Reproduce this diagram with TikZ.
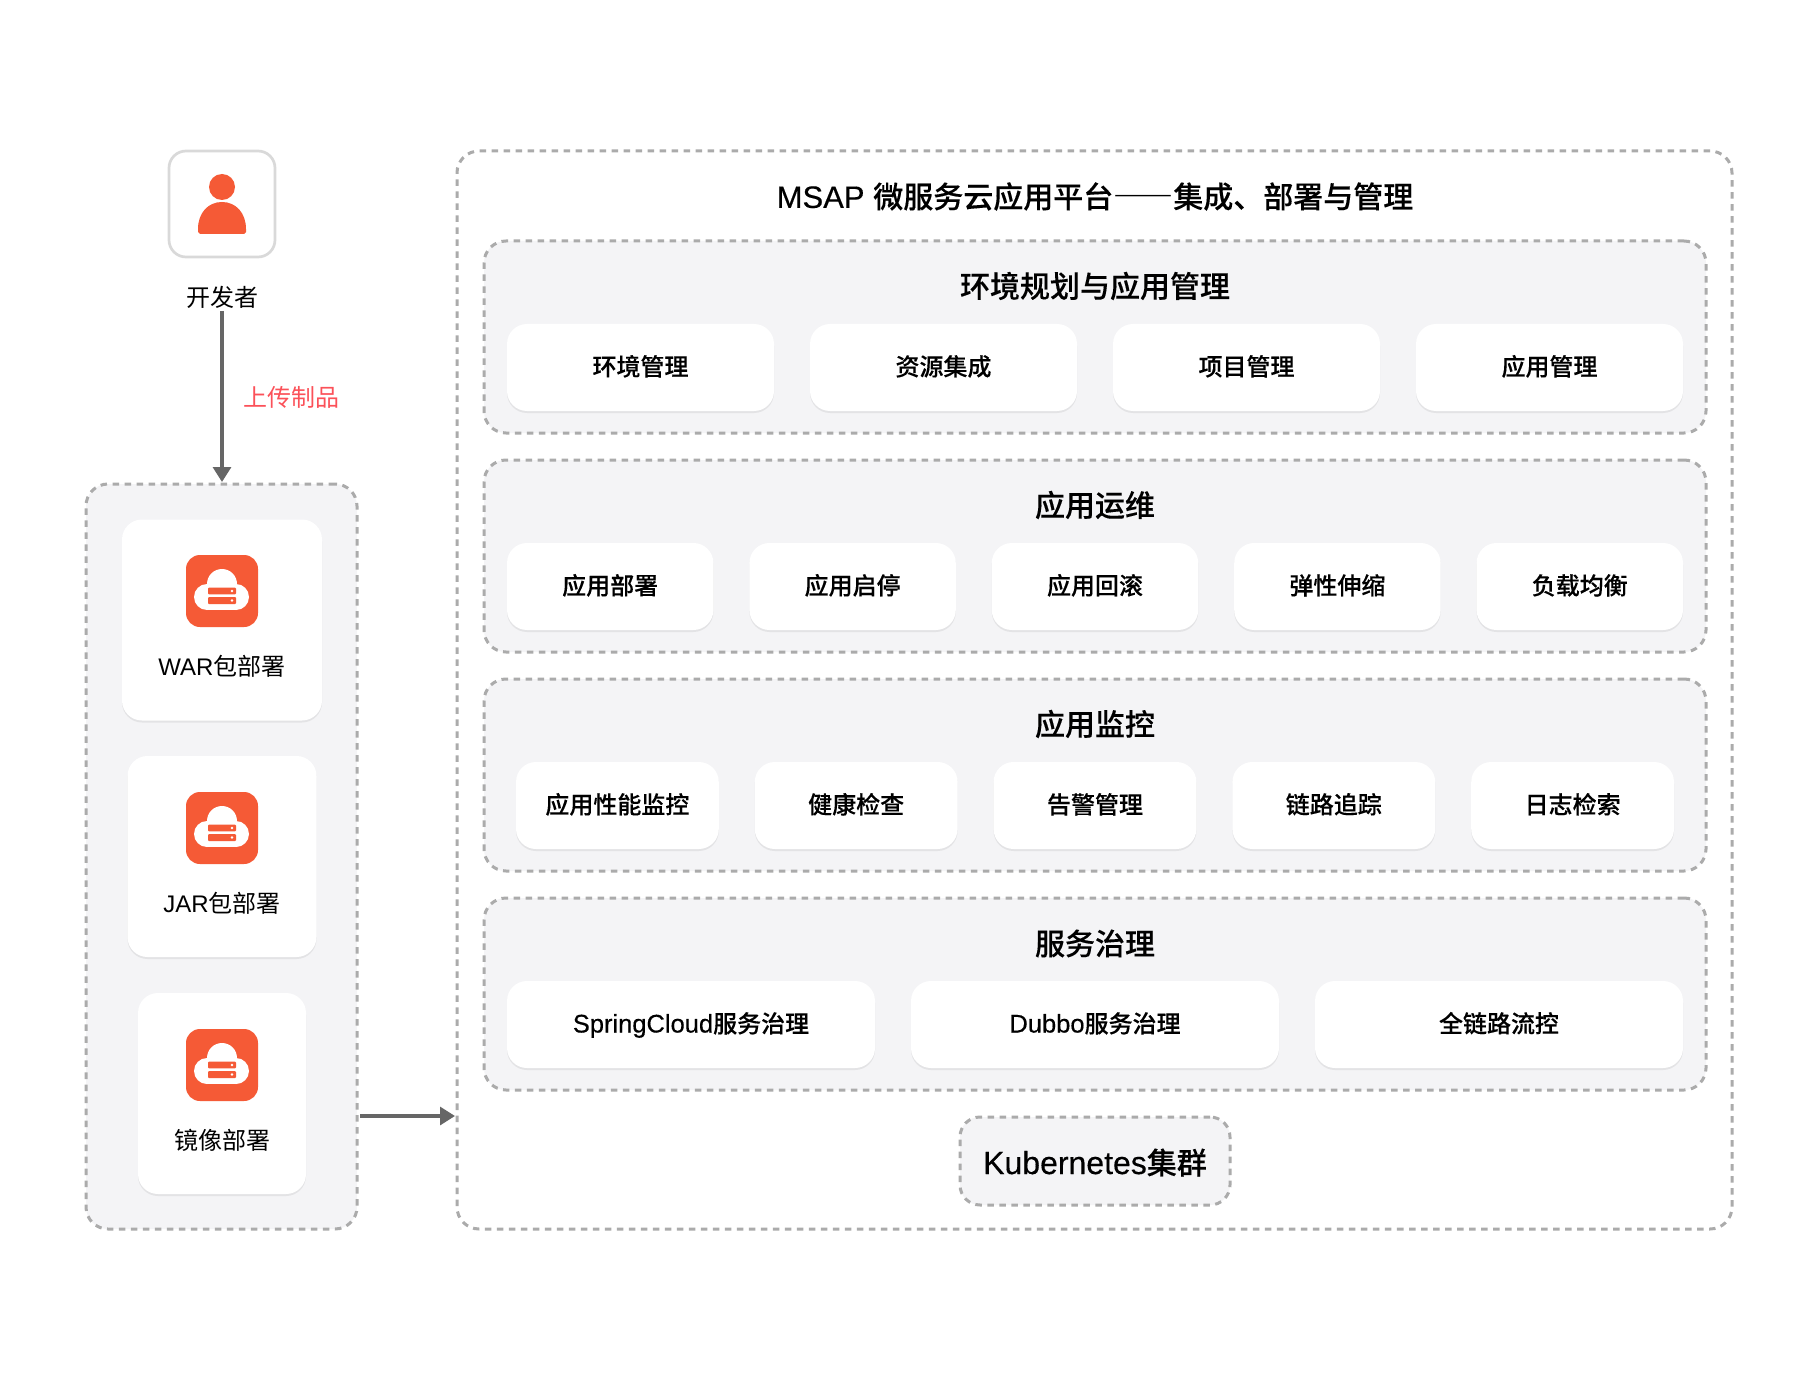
\documentclass[tikz,border=0pt]{standalone}
\usepackage{fontspec}
\setmainfont{Noto Sans CJK SC}
\newfontfamily\cjkmid[FakeBold=0.2]{Noto Sans CJK SC Medium}
\newfontfamily\cjkwide[CharacterWidth=Full]{Noto Sans CJK SC Bold}
\newfontfamily\latfont{Liberation Sans}
\newfontfamily\latmid[FakeBold=0.35]{Liberation Sans}
\usetikzlibrary{arrows.meta,shadows}
\definecolor{panelgray}{HTML}{F4F4F6}
\definecolor{dashgray}{HTML}{ABABAB}
\definecolor{framegray}{HTML}{D9D9D9}
\definecolor{arrowgray}{HTML}{666666}
\definecolor{iconred}{HTML}{F55A36}
\definecolor{labelred}{HTML}{FB5159}
\newcommand{\txtsize}[1]{\fontsize{#1pt}{#1pt}\selectfont}
\newcommand{\cloudicon}[2]{%
  \begin{scope}[shift={(#1,#2)}]
    \fill[iconred] (-36,-36) [rounded corners=14pt] -- (36,-36) -- (36,36) -- (-36,36) -- cycle;
    \fill[white] (0,-7) circle (15);
    \fill[white] (-15,6) circle (13);
    \fill[white] (14,6) circle (13);
    \fill[white] (-15,-3) rectangle (14,19);
    \fill[iconred, rounded corners=1pt] (-14,-3.3) rectangle (14,3.3);
    \fill[iconred, rounded corners=1pt] (-14,6) rectangle (14,13);
    \fill[white] (10,0) circle (1.4);
    \fill[white] (10,9.5) circle (1.4);
  \end{scope}}
\tikzset{
  dashbox/.style={rectangle, draw=dashgray, line width=3pt, dash pattern=on 6.5pt off 5.5pt, inner sep=0pt},
  groupbox/.style={dashbox, fill=panelgray, rounded corners=22pt},
  itembox/.style={rectangle, fill=white, rounded corners=20pt, inner sep=0pt, minimum height=87pt, text height=21pt, text depth=5pt,
    drop shadow={opacity=0.14, shadow xshift=0pt, shadow yshift=-2pt}, font=\cjkmid\txtsize{24}},
  deploybox/.style={rectangle, fill=white, rounded corners=20pt, inner sep=0pt, minimum height=201pt,
    drop shadow={opacity=0.14, shadow xshift=0pt, shadow yshift=-2pt}},
  headtext/.style={font=\cjkmid\txtsize{30}},
  plaintext/.style={font=\txtsize{24}, inner sep=0pt},
  linkarrow/.style={draw=arrowgray, line width=3.2pt, -{Triangle[length=15pt, width=18pt]}}
}
\begin{document}
\begin{tikzpicture}[x=1pt, y=-1pt]
  \useasboundingbox (0,0) rectangle (1800,1380);

  % Developer
  \node (devframe) [rectangle, draw=framegray, line width=2.7pt, fill=white, rounded corners=17pt, minimum width=106pt, minimum height=106pt, inner sep=0pt] at (222,204) {};
  \fill[iconred] (222,187) circle (13);
  \fill[iconred] (198,229) .. controls (198,213) and (208,202) .. (222,202) .. controls (236,202) and (246,213) .. (246,229) -- (246,232) -- (244,234) -- (200,234) -- (198,232) -- cycle;
  \node (developer) [plaintext] at (222,297.5) {开发者};
  \node (upload) [plaintext, text=labelred] at (291,397) {上传制品};

  % Deploy column
  \node (artifacts) [groupbox, minimum width=271pt, minimum height=745pt] at (221.5,856.5) {};
  \node (warcard) [deploybox, minimum width=200pt] at (222,620) {};
  \node (jarcard) [deploybox, minimum width=189pt] at (222,856.5) {};
  \node (imagecard) [deploybox, minimum width=168pt] at (222,1093.5) {};
  \cloudicon{222}{591}
  \cloudicon{222}{828}
  \cloudicon{222}{1065}
  \node (warlabel) [plaintext] at (222,666) {{\latfont WAR}包部署};
  \node (jarlabel) [plaintext] at (222,903) {{\latfont JAR}包部署};
  \node (imagelabel) [plaintext] at (222,1140) {镜像部署};

  % Platform
  \node (platform) [dashbox, fill=white, rounded corners=22pt, minimum width=1275pt, minimum height=1078pt] at (1094.5,690) {};
  \node (platformtitle) [headtext] at (1095,196.5) {{\latmid\txtsize{31}MSAP}\hspace{2pt} 微服务云应用平台{\cjkwide ——}集成、部署与管理};

  % Environment planning
  \node (envgroup) [groupbox, minimum width=1222pt, minimum height=192pt] at (1095,337) {};
  \node (envtitle) [headtext] at (1095,286) {环境规划与应用管理};
  \node (envmanage) [itembox, minimum width=267pt] at (640.5,367.5) {环境管理};
  \node (resource) [itembox, minimum width=267pt] at (943.5,367.5) {资源集成};
  \node (project) [itembox, minimum width=267pt] at (1246.5,367.5) {项目管理};
  \node (appmanage) [itembox, minimum width=267pt] at (1549.5,367.5) {应用管理};

  % Operations
  \node (opsgroup) [groupbox, minimum width=1222pt, minimum height=192pt] at (1095,556) {};
  \node (opstitle) [headtext] at (1095,505) {应用运维};
  \node (deploy) [itembox, minimum width=206.4pt] at (610.2,586.5) {应用部署};
  \node (startstop) [itembox, minimum width=206.4pt] at (852.6,586.5) {应用启停};
  \node (rollback) [itembox, minimum width=206.4pt] at (1095,586.5) {应用回滚};
  \node (scaling) [itembox, minimum width=206.4pt] at (1337.4,586.5) {弹性伸缩};
  \node (balance) [itembox, minimum width=206.4pt] at (1579.8,586.5) {负载均衡};

  % Monitoring
  \node (mongroup) [groupbox, minimum width=1222pt, minimum height=192pt] at (1095,775) {};
  \node (montitle) [headtext] at (1095,724) {应用监控};
  \node (apm) [itembox, minimum width=202.8pt] at (617.4,805.5) {应用性能监控};
  \node (health) [itembox, minimum width=202.8pt] at (856.2,805.5) {健康检查};
  \node (alert) [itembox, minimum width=202.8pt] at (1095,805.5) {告警管理};
  \node (trace) [itembox, minimum width=202.8pt] at (1333.8,805.5) {链路追踪};
  \node (logs) [itembox, minimum width=202.8pt] at (1572.6,805.5) {日志检索};

  % Governance
  \node (govgroup) [groupbox, minimum width=1222pt, minimum height=192pt] at (1095,994) {};
  \node (govtitle) [headtext] at (1095,943.5) {服务治理};
  \node (springcloud) [itembox, minimum width=368pt] at (691,1024.5) {{\latmid\txtsize{25.5}SpringCloud}服务治理};
  \node (dubbo) [itembox, minimum width=368pt] at (1095,1024.5) {{\latmid\txtsize{25.5}Dubbo}服务治理};
  \node (fulllink) [itembox, minimum width=368pt] at (1499,1024.5) {全链路流控};

  % Cluster
  \node (cluster) [groupbox, rounded corners=20pt, minimum width=270pt, minimum height=88pt, text height=32pt, text depth=6pt, font=\cjkmid\txtsize{30}] at (1095,1161) {{\latmid\txtsize{32}Kubernetes}集群};

  % Arrows
  \coordinate (linkrow) at (0,1116);
  \draw[linkarrow, shorten <=2pt, shorten >=0.5pt] (developer.south) -- (developer.south |- artifacts.north);
  \draw[linkarrow, shorten <=1.5pt, shorten >=0.5pt] (artifacts.east |- linkrow) -- (platform.west |- linkrow);
\end{tikzpicture}
\end{document}
